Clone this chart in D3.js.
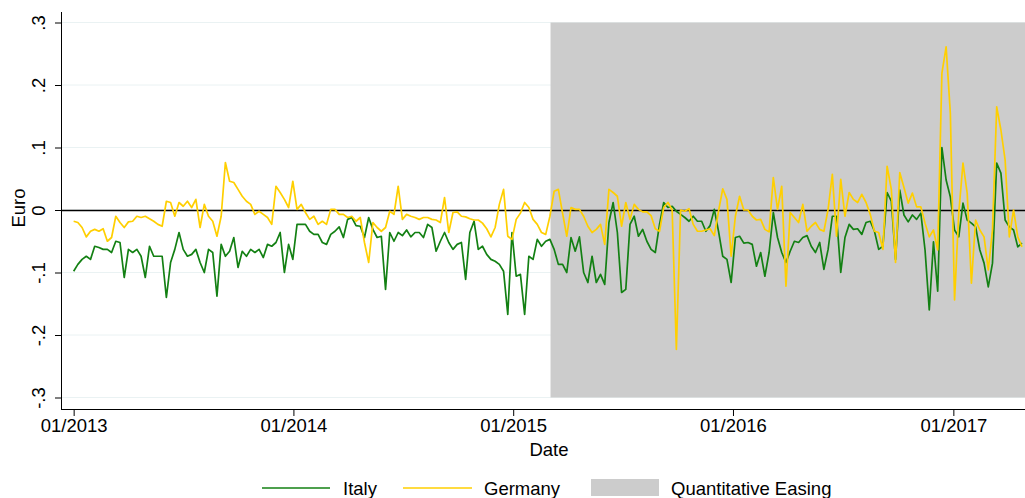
<!DOCTYPE html>
<html>
<head>
<meta charset="utf-8">
<script src="https://cdn.jsdelivr.net/npm/d3@7"></script>
<style>
  body { margin: 0; background: #fff; }
  svg text { font-family: Arial, "Liberation Sans", sans-serif; fill: #000; font-size: 18.5px; }
</style>
</head>
<body>
<svg id="chart" width="1025" height="498"></svg>
<script>
// weekly readings of the spread (euro), first week = 2013-01-01
var firstWeek = '2013-01-01';
var qeStart = '2015-03-04';

var italy = [
  -0.098, -0.087, -0.079, -0.074, -0.079, -0.058, -0.060, -0.063, -0.063, -0.068,
  -0.050, -0.052, -0.108, -0.063, -0.068, -0.063, -0.074, -0.108, -0.058, -0.074,
  -0.074, -0.074, -0.140, -0.084, -0.063, -0.036, -0.063, -0.074, -0.071, -0.063,
  -0.084, -0.100, -0.063, -0.068, -0.138, -0.055, -0.074, -0.066, -0.044, -0.092,
  -0.066, -0.074, -0.063, -0.068, -0.063, -0.076, -0.055, -0.058, -0.052, -0.036,
  -0.100, -0.055, -0.079, -0.023, -0.023, -0.023, -0.034, -0.039, -0.039, -0.052,
  -0.055, -0.039, -0.034, -0.027, -0.044, -0.015, -0.012, -0.025, -0.026, -0.044,
  -0.012, -0.031, -0.044, -0.042, -0.127, -0.036, -0.050, -0.036, -0.041, -0.032,
  -0.043, -0.036, -0.036, -0.044, -0.023, -0.028, -0.066, -0.050, -0.036, -0.052,
  -0.063, -0.055, -0.052, -0.111, -0.036, -0.018, -0.063, -0.058, -0.071, -0.079,
  -0.082, -0.087, -0.098, -0.167, -0.036, -0.106, -0.103, -0.167, -0.074, -0.079,
  -0.047, -0.058, -0.050, -0.047, -0.063, -0.087, -0.087, -0.100, -0.044, -0.066,
  -0.043, -0.100, -0.116, -0.074, -0.116, -0.103, -0.119, -0.020, 0.012, -0.036,
  -0.132, -0.127, -0.023, -0.010, -0.042, -0.031, -0.050, -0.063, -0.068, -0.023,
  0.012, 0.004, 0.006, -0.002, -0.007, -0.012, -0.018, -0.010, -0.018, -0.018,
  -0.034, -0.025, 0.001, -0.034, -0.074, -0.079, -0.116, -0.044, -0.042, -0.053,
  -0.052, -0.055, -0.090, -0.068, -0.106, -0.068, -0.004, -0.044, -0.068, -0.084,
  -0.066, -0.050, -0.052, -0.044, -0.041, -0.058, -0.068, -0.052, -0.095, -0.063,
  -0.010, -0.010, -0.100, -0.044, -0.023, -0.031, -0.030, -0.039, -0.020, -0.018,
  -0.034, -0.063, -0.058, 0.028, 0.014, -0.079, 0.032, -0.008, -0.019, -0.008,
  -0.015, -0.005, -0.064, -0.160, -0.051, -0.130, 0.100, 0.048, 0.021, -0.032,
  -0.043, 0.011, -0.016, -0.021, -0.027, -0.064, -0.085, -0.123, -0.085, 0.075,
  0.059, -0.016, -0.027, -0.032, -0.059, -0.053
];

var germany = [
  -0.018, -0.020, -0.028, -0.043, -0.034, -0.031, -0.034, -0.030, -0.050, -0.044,
  -0.010, -0.020, -0.028, -0.019, -0.018, -0.010, -0.012, -0.010, -0.014, -0.018,
  -0.023, -0.026, 0.014, 0.012, -0.010, 0.012, 0.006, 0.014, 0.004, 0.017,
  -0.028, 0.009, -0.010, -0.018, -0.042, -0.010, 0.076, 0.046, 0.044, 0.033,
  0.022, 0.014, 0.009, -0.007, -0.002, -0.007, -0.012, -0.023, 0.038, 0.028,
  0.017, 0.004, 0.046, 0.001, 0.009, -0.004, -0.015, -0.010, -0.023, -0.018,
  -0.023, 0.001, 0.001, -0.007, -0.007, -0.012, -0.010, -0.018, -0.012, -0.052,
  -0.084, -0.020, -0.028, -0.034, -0.028, -0.002, -0.007, 0.038, -0.015, -0.007,
  -0.010, -0.012, -0.015, -0.012, -0.012, -0.015, -0.016, -0.020, 0.020, -0.036,
  -0.004, -0.003, -0.010, -0.011, -0.014, -0.016, -0.016, -0.021, -0.030, -0.043,
  -0.028, 0.009, 0.033, -0.042, -0.047, -0.015, -0.005, 0.012, 0.004, -0.015,
  -0.023, -0.036, -0.039, -0.010, 0.030, 0.033, -0.005, -0.042, 0.004, 0.001,
  0.001, -0.010, -0.026, -0.036, -0.031, -0.023, -0.055, 0.033, 0.028, 0.022,
  -0.026, 0.012, -0.015, 0.009, 0.001, -0.003, -0.003, -0.009, -0.030, -0.034,
  0.004, 0.012, 0.000, -0.223, 0.000, -0.002, 0.002, -0.023, -0.034, -0.034,
  -0.032, -0.030, -0.041, -0.002, 0.034, 0.017, -0.074, -0.010, 0.022, 0.000,
  0.000, -0.010, -0.016, -0.015, -0.031, -0.035, 0.052, 0.001, 0.038, -0.122,
  -0.004, -0.012, -0.020, 0.009, -0.034, -0.026, -0.020, -0.031, -0.034, 0.001,
  0.057, -0.042, 0.049, -0.010, 0.028, 0.017, 0.012, 0.025, 0.012, -0.007,
  -0.034, -0.036, -0.063, 0.070, 0.033, -0.084, 0.060, 0.036, 0.011, 0.027,
  0.005, 0.005, -0.021, -0.043, -0.032, -0.064, 0.219, 0.261, 0.155, -0.144,
  -0.005, 0.075, 0.027, -0.117, -0.016, -0.032, -0.043, -0.096, -0.032, 0.165,
  0.128, 0.080, -0.043, 0.000, -0.043, -0.059
];

var yTicks = [-0.3, -0.2, -0.1, 0, 0.1, 0.2, 0.3];
var yTickLabels = ['-.3', '-.2', '-.1', '0', '.1', '.2', '.3'];
var xTicks = ['2013-01-01', '2014-01-01', '2015-01-01', '2016-01-01', '2017-01-01'];
var xTickLabels = ['01/2013', '01/2014', '01/2015', '01/2016', '01/2017'];

var parse = d3.timeParse('%Y-%m-%d');
var start = parse(firstWeek);
var weeks = italy.map(function(d, i) { return d3.timeDay.offset(start, 7 * i); });

var svg = d3.select('#chart');

var x = d3.scaleTime()
  .domain([parse('2012-12-11'), parse('2017-04-30')])
  .range([61, 1025]);
var y = d3.scaleLinear()
  .domain([-0.3, 0.3])
  .range([397.5, 22.5]);

// grid lines
svg.append('g').selectAll('line')
  .data(yTicks).enter()
  .append('line')
    .attr('x1', 62).attr('x2', 1025)
    .attr('y1', y).attr('y2', y)
    .attr('stroke', '#eaf2f3')
    .attr('stroke-width', 1);

// quantitative easing shade
svg.append('rect')
  .attr('x', x(parse(qeStart)))
  .attr('y', y(0.3))
  .attr('width', x.range()[1] - x(parse(qeStart)))
  .attr('height', y(-0.3) - y(0.3))
  .attr('fill', '#cccccc');

// zero line
svg.append('line')
  .attr('x1', 62).attr('x2', 1025)
  .attr('y1', y(0) + 0.5).attr('y2', y(0) + 0.5)
  .attr('stroke', '#000')
  .attr('stroke-width', 1.3);

var line = d3.line()
  .x(function(d, i) { return x(weeks[i]); })
  .y(function(d) { return y(d); });

svg.append('path')
  .datum(italy)
  .attr('d', line)
  .attr('fill', 'none')
  .attr('stroke', '#138013')
  .attr('stroke-width', 1.7)
  .attr('stroke-linejoin', 'round');

svg.append('path')
  .datum(germany)
  .attr('d', line)
  .attr('fill', 'none')
  .attr('stroke', '#ffcf00')
  .attr('stroke-width', 1.7)
  .attr('stroke-linejoin', 'round');

// y axis
var yAxis = svg.append('g')
  .attr('transform', 'translate(61,0)')
  .call(d3.axisLeft(y)
    .tickValues(yTicks)
    .tickFormat(function(d, i) { return yTickLabels[i]; })
    .tickSize(6)
    .tickSizeOuter(0));
yAxis.select('.domain').remove();
yAxis.selectAll('.tick line').attr('stroke', '#000');
yAxis.selectAll('.tick text')
  .attr('x', null).attr('dy', null)
  .attr('transform', 'translate(-16,0) rotate(-90)')
  .attr('text-anchor', 'middle')
  .style('font-size', '18.5px');
svg.append('line')
  .attr('x1', 61.5).attr('x2', 61.5)
  .attr('y1', 12).attr('y2', 409.5)
  .attr('stroke', '#000');

// x axis
var xAxis = svg.append('g')
  .attr('transform', 'translate(0,409)')
  .call(d3.axisBottom(x)
    .tickValues(xTicks.map(parse))
    .tickFormat(function(d, i) { return xTickLabels[i]; })
    .tickSize(7)
    .tickSizeOuter(0));
xAxis.select('.domain').remove();
xAxis.selectAll('.tick line').attr('stroke', '#000');
xAxis.selectAll('.tick text').style('font-size', '18.5px');
svg.append('line')
  .attr('x1', 61).attr('x2', 1025)
  .attr('y1', 409.5).attr('y2', 409.5)
  .attr('stroke', '#000');

// axis titles
svg.append('text')
  .attr('transform', 'translate(25,208) rotate(-90)')
  .attr('text-anchor', 'middle')
  .text('Euro');
svg.append('text')
  .attr('x', 549).attr('y', 456)
  .attr('text-anchor', 'middle')
  .text('Date');

// legend
var legend = svg.append('g').attr('transform', 'translate(0,488)');
legend.append('line')
  .attr('x1', 262).attr('x2', 330).attr('y1', 0).attr('y2', 0)
  .attr('stroke', '#138013').attr('stroke-width', 1.7);
legend.append('text').attr('x', 343).attr('y', 7).text('Italy');
legend.append('line')
  .attr('x1', 403).attr('x2', 472).attr('y1', 0).attr('y2', 0)
  .attr('stroke', '#ffcf00').attr('stroke-width', 1.7);
legend.append('text').attr('x', 484).attr('y', 7).text('Germany');
legend.append('rect')
  .attr('x', 591).attr('y', -9).attr('width', 68).attr('height', 17)
  .attr('fill', '#cccccc');
legend.append('text').attr('x', 671).attr('y', 7).text('Quantitative Easing');
</script>
</body>
</html>
